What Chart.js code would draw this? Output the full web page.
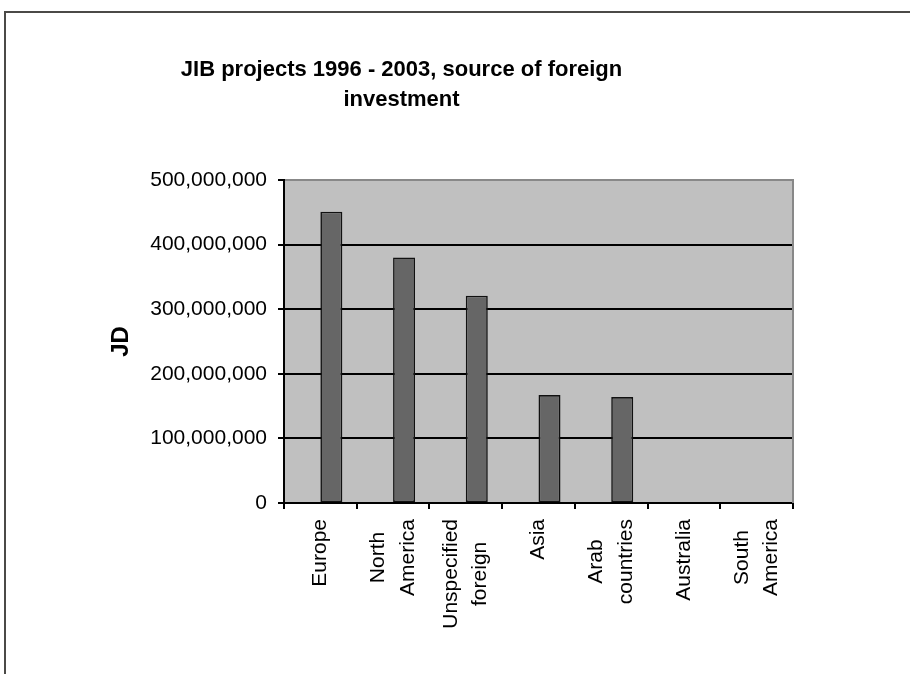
<!DOCTYPE html>
<html>
<head>
<meta charset="utf-8">
<title>JIB projects 1996 - 2003</title>
<script src="https://cdn.jsdelivr.net/npm/chart.js@4/dist/chart.umd.min.js"></script>
<style>
  html, body { margin: 0; padding: 0; background: #fff; }
  #wrap { position: relative; width: 910px; height: 674px; overflow: hidden; }
  #frame {
    position: absolute; left: 4px; top: 11px; width: 920px; height: 680px;
    border: 2px solid #4b4a47; box-sizing: border-box; pointer-events: none;
  }
  canvas { position: absolute; left: 0; top: 0; }
</style>
</head>
<body>
<div id="wrap">
  <canvas id="chart" width="910" height="674"></canvas>
  <div id="frame"></div>
</div>
<script>
// categories (multi-line ones are split the way they wrap under the axis)
const categories = [
  'Europe',
  ['North', 'America'],
  ['Unspecified', 'foreign'],
  'Asia',
  ['Arab', 'countries'],
  'Australia',
  ['South', 'America']
];

// JD invested per source
const investment = [451000000, 380000000, 321000000, 167000000, 164000000, 0, 0];

// second series of the workbook, no values
const otherSeries = [null, null, null, null, null, null, null];

const titleLines = ['JIB projects 1996 - 2003, source of foreign', 'investment'];
const yTitle = 'JD';
const yMax = 500000000;
const yStep = 100000000;

const FONT = '"Liberation Sans", Arial, Helvetica, sans-serif';
Chart.defaults.font.family = FONT;
Chart.defaults.color = '#000';

const TICK_LEN = 6;
const LABEL_GAP = 16;
const LINE_GAP = 29.5;
const LABEL_SIZE = 21;

// grey plot background + grey right edge
const plotArea = {
  id: 'plotArea',
  beforeDraw(chart) {
    const { ctx, chartArea: a } = chart;
    ctx.save();
    ctx.fillStyle = '#c0c0c0';
    ctx.fillRect(a.left, a.top, a.right - a.left, a.bottom - a.top);
    ctx.restore();
  },
  beforeDatasetsDraw(chart) {
    const { ctx, chartArea: a } = chart;
    ctx.save();
    ctx.strokeStyle = '#888888';
    ctx.lineWidth = 2;
    ctx.beginPath();
    ctx.moveTo(a.right, a.top - 1);
    ctx.lineTo(a.right, a.bottom);
    ctx.stroke();
    ctx.restore();
  }
};

// rotated category labels, lines centred on the tick and on each other
const xLabels = {
  id: 'xLabels',
  afterDraw(chart) {
    const { ctx, scales: { x } } = chart;
    ctx.save();
    ctx.font = LABEL_SIZE + 'px ' + FONT;
    ctx.fillStyle = '#000';
    ctx.textAlign = 'center';
    ctx.textBaseline = 'middle';
    categories.forEach((label, i) => {
      const lines = Array.isArray(label) ? label : [label];
      const maxW = Math.max(...lines.map(l => ctx.measureText(l).width));
      const cx = x.getPixelForTick(i);
      const cy = x.top + LABEL_GAP + maxW / 2;
      lines.forEach((line, j) => {
        ctx.save();
        ctx.translate(cx + (j - (lines.length - 1) / 2) * LINE_GAP, cy);
        ctx.rotate(-Math.PI / 2);
        ctx.fillText(line, 0, 0);
        ctx.restore();
      });
    });
    ctx.restore();
  }
};

new Chart(document.getElementById('chart'), {
  type: 'bar',
  data: {
    labels: categories,
    datasets: [
      {
        label: 'other',
        data: otherSeries,
        backgroundColor: '#666666',
        borderColor: '#000',
        borderWidth: 1
      },
      {
        label: yTitle,
        data: investment,
        backgroundColor: '#666666',
        borderColor: '#111',
        borderWidth: 1.6,
        borderSkipped: false
      }
    ]
  },
  options: {
    responsive: false,
    animation: false,
    devicePixelRatio: 1,
    categoryPercentage: 0.605,
    barPercentage: 1,
    layout: { padding: { left: 10, right: 117, top: 0, bottom: 0 } },
    plugins: {
      legend: { display: false },
      tooltip: { enabled: false },
      title: {
        display: true,
        text: titleLines,
        color: '#000',
        font: { size: 22, weight: 'bold', lineHeight: 30 / 22 },
        padding: { top: 55, bottom: 65 }
      }
    },
    scales: {
      x: {
        afterFit(scale) { scale.height = 171; },
        grid: {
          offset: true,
          drawOnChartArea: false,
          drawTicks: true,
          tickLength: TICK_LEN,
          color: '#000',
          lineWidth: 2
        },
        border: { display: true, color: '#000', width: 2 },
        ticks: { display: false }
      },
      y: {
        min: 0,
        max: yMax,
        afterFit(scale) { scale.width = 274; },
        grid: {
          color: c => (c.tick && c.tick.value === yMax ? '#888888' : '#000'),
          tickColor: '#000',
          lineWidth: 2,
          tickLength: TICK_LEN
        },
        border: { display: true, color: '#000', width: 2 },
        ticks: {
          stepSize: yStep,
          padding: 11,
          color: '#000',
          font: { size: LABEL_SIZE },
          callback: v => Number(v).toLocaleString('en-US')
        },
        title: {
          display: true,
          text: yTitle,
          color: '#000',
          font: { size: 24, weight: 'bold', lineHeight: 1.2 },
          padding: { top: 96.6, bottom: 0 }
        }
      }
    }
  },
  plugins: [plotArea, xLabels]
});
</script>
</body>
</html>
